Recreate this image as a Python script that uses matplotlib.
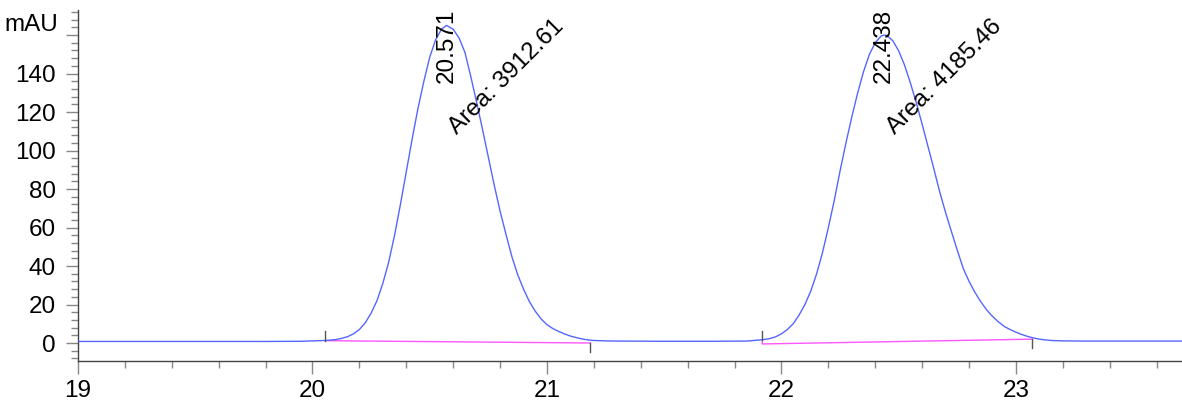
import numpy as np
import matplotlib
matplotlib.use("Agg")
import matplotlib.pyplot as plt
from matplotlib.ticker import MultipleLocator, FixedLocator

plt.rcParams['font.family'] = ['Liberation Sans', 'DejaVu Sans']

# chromatogram trace (min, mAU)
time_min = [19.00, 19.50, 19.80, 19.95,
            20.000, 20.025, 20.050, 20.075, 20.100, 20.125, 20.150, 20.175,
            20.200, 20.225, 20.250, 20.275, 20.300, 20.325, 20.350, 20.375,
            20.400, 20.425, 20.450, 20.475, 20.500, 20.525, 20.550, 20.571,
            20.600, 20.625, 20.650, 20.675, 20.700, 20.725, 20.750, 20.775,
            20.800, 20.825, 20.850, 20.875, 20.900, 20.925, 20.950, 20.975,
            21.000, 21.025, 21.050, 21.075, 21.100, 21.125, 21.150, 21.175,
            21.200, 21.250, 21.300, 21.500, 21.700, 21.850,
            21.900, 21.925, 21.950, 21.975, 22.000, 22.025, 22.050, 22.075,
            22.100, 22.125, 22.150, 22.175, 22.200, 22.225, 22.250, 22.275,
            22.300, 22.325, 22.350, 22.375, 22.400, 22.425, 22.438, 22.450,
            22.475, 22.500, 22.525, 22.550, 22.575, 22.600, 22.625, 22.650,
            22.675, 22.700, 22.725, 22.750, 22.775, 22.800, 22.825, 22.850,
            22.875, 22.900, 22.925, 22.950, 22.975, 23.000, 23.025, 23.050,
            23.075, 23.100, 23.125, 23.150, 23.200, 23.300, 23.500, 23.710]
signal_mau = [0.8, 0.8, 0.8, 0.9,
              1.1, 1.2, 1.3, 1.5, 1.8, 2.4, 3.3, 4.8,
              7.0, 10.5, 15.5, 22.0, 31.0, 42.0, 56.0, 72.0,
              89.0, 106.0, 122.0, 136.0, 148.5, 157.5, 163.0, 165.0,
              163.0, 158.5, 151.0, 138.5, 125.0, 111.0, 96.5, 82.0,
              68.5, 56.5, 45.0, 35.5, 28.0, 21.5, 16.5, 12.5,
              9.5, 7.5, 6.0, 4.7, 3.6, 2.8, 2.1, 1.6,
              1.3, 1.1, 1.0, 0.9, 0.9, 1.0,
              1.5, 1.8, 2.3, 3.2, 4.8, 7.0, 10.0, 14.5,
              20.0, 27.0, 36.0, 47.0, 60.0, 74.0, 89.5, 104.0,
              117.5, 130.0, 141.0, 150.0, 156.0, 159.5, 160.0, 159.7,
              157.0, 151.7, 144.3, 135.0, 124.8, 113.6, 102.0, 90.4,
              78.4, 67.7, 57.8, 48.1, 38.8, 32.0, 26.3, 21.4,
              17.2, 13.8, 11.0, 8.6, 7.0, 5.6, 4.4, 3.4,
              2.6, 2.0, 1.6, 1.3, 1.1, 1.0, 1.0, 1.0]

# integration results
peak_rt = [20.571, 22.438]
peak_area = [3912.61, 4185.46]
# integration baselines
base_start_t = [20.055, 21.918]
base_start_y = [1.2, -0.5]
base_end_t = [21.185, 23.070]
base_end_y = [0.0, 2.0]
trace_at_start = [1.2, 1.6]

FS = 17.5

fig = plt.figure(figsize=(11.82, 4.05), dpi=100)
ax = fig.add_axes([78 / 1182, 44 / 405, 1104 / 1182, 351 / 405])

ax.plot(time_min, signal_mau, color='#5566ff', lw=1.0, zorder=3)

for i in range(len(peak_rt)):
    # pink baseline (drop line when it starts below the trace)
    ax.plot([base_start_t[i], base_start_t[i], base_end_t[i]],
            [trace_at_start[i], base_start_y[i], base_end_y[i]],
            color='#ff55ff', lw=1.0, zorder=2)
    # start / end markers
    ax.plot([base_start_t[i], base_start_t[i]], [trace_at_start[i], trace_at_start[i] + 4.8],
            color='#555555', lw=1.0, zorder=4)
    ax.plot([base_end_t[i], base_end_t[i]], [base_end_y[i], base_end_y[i] - 4.5],
            color='#555555', lw=1.0, zorder=4)
    ax.text(peak_rt[i], 135, f"{peak_rt[i]:.3f}", rotation=90, ha='center', va='bottom',
            fontsize=FS, color='black', zorder=5)
    ax.text(peak_rt[i] + 0.047, 108, f"Area: {peak_area[i]:.2f}", rotation=45,
            rotation_mode='anchor', ha='left', va='baseline', fontsize=FS,
            color='black', zorder=5)

ax.set_xlim(19.0, 23.708)
ax.set_ylim(-9.35, 173)

ax.xaxis.set_major_locator(MultipleLocator(1))
ax.xaxis.set_minor_locator(MultipleLocator(0.2))
yt = [0, 20, 40, 60, 80, 100, 120, 140, 160]
ax.yaxis.set_major_locator(FixedLocator(yt))
ax.set_yticklabels([str(v) for v in yt[:-1]] + [''])
ax.yaxis.set_minor_locator(MultipleLocator(4))

ax.text(-0.018, 165, "mAU", transform=ax.get_yaxis_transform(), ha='right', va='center',
        fontsize=FS)

for s in ['top', 'right']:
    ax.spines[s].set_visible(False)
for s in ['left', 'bottom']:
    ax.spines[s].set_color('#444444')
    ax.spines[s].set_linewidth(1.0)

ax.tick_params(axis='both', which='major', length=9, width=1, color='#888888',
               labelsize=FS, labelcolor='black')
ax.tick_params(axis='both', which='minor', length=5, width=1, color='#888888')
ax.tick_params(axis='y', which='major', pad=7)
ax.tick_params(axis='x', which='major', pad=5)

fig.savefig("out.png", dpi=100)
